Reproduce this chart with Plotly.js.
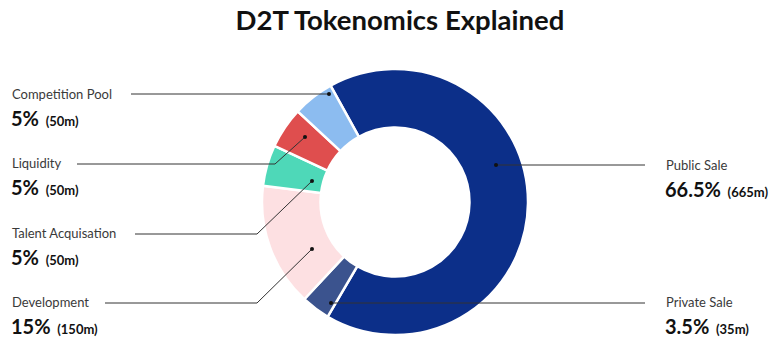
<!DOCTYPE html>
<html>
<head>
<meta charset="utf-8">
<script src="https://cdn.plot.ly/plotly-3.0.1.min.js"></script>
<style>html,body{margin:0;padding:0;background:#fff;}#chart{width:775px;height:345px;}</style>
</head>
<body>
<div id="chart"></div>
<script>
const labels = ['Public Sale', 'Private Sale', 'Development', 'Talent Acquisation', 'Liquidity', 'Competition Pool'];
const values = [66.5, 3.5, 15, 5, 5, 5];
const tokens = ['665m', '35m', '150m', '50m', '50m', '50m'];
const colors = ['#0c2f89', '#3b538e', '#fde0e2', '#4ed8b8', '#df4e4e', '#8cbcf0'];

const W = 775, H = 345;
const px = x => x / W;
const py = y => 1 - y / H;

// label placement (pixels): [labelX, labelY, anchor, lineStartX, elbowX, dotX, dotY]
const place = {
  'Public Sale':        [664, 165, 'left', 645, null, 496, 165],
  'Private Sale':       [664, 302, 'left', 645, null, 331, 303],
  'Development':        [10, 302, 'left', 105, 257, 312, 249],
  'Talent Acquisation': [10, 233, 'left', 135, 257, 312, 181],
  'Liquidity':          [10, 163, 'left', 77, 275, 305, 137],
  'Competition Pool':   [10, 94, 'left', 131, null, 329, 94]
};

const annotations = [];
const shapes = [];
labels.forEach((lab, i) => {
  const p = place[lab];
  annotations.push({
    xref: 'paper', yref: 'paper', x: px(p[0]), y: py(p[1]),
    xanchor: 'left', yanchor: 'middle', showarrow: false,
    text: lab, font: {family: 'Lato, sans-serif', size: 13, color: '#3a3a3a'}
  });
  annotations.push({
    xref: 'paper', yref: 'paper', x: px(p[0] - 1), y: py(p[1] + 24),
    xanchor: 'left', yanchor: 'middle', showarrow: false,
    text: '<b><span style="font-size:20px">' + values[i] + '%</span></b>  <b>(' + tokens[i] + ')</b>',
    font: {family: 'Lato, sans-serif', size: 13, color: '#111'}
  });
  const ly = p[1] + 1;
  if (p[4] === null) {
    shapes.push({type: 'line', xref: 'paper', yref: 'paper', x0: px(p[3]), y0: py(p[6]), x1: px(p[5]), y1: py(p[6]), line: {color: '#333', width: 1}});
  } else {
    shapes.push({type: 'path', xref: 'paper', yref: 'paper',
      path: 'M ' + px(p[3]) + ' ' + py(ly) + ' L ' + px(p[4]) + ' ' + py(ly) + ' L ' + px(p[5]) + ' ' + py(p[6]),
      line: {color: '#333', width: 1}});
  }
  shapes.push({type: 'circle', xref: 'paper', yref: 'paper',
    x0: px(p[5] - 2), x1: px(p[5] + 2), y0: py(p[6] + 2), y1: py(p[6] - 2),
    fillcolor: '#111', line: {width: 0}});
});

const cx = 395, cy = 202, r = 133;
const data = [{
  type: 'pie', labels: labels, values: values, hole: 0.56,
  sort: false, direction: 'clockwise', rotation: -29,
  textinfo: 'none', hoverinfo: 'label+percent',
  marker: {colors: colors, line: {color: '#ffffff', width: 2.5}},
  domain: {x: [px(cx - r), px(cx + r)], y: [py(cy + r), py(cy - r)]},
  showlegend: false
}];

const layout = {
  width: W, height: H,
  margin: {l: 0, r: 0, t: 0, b: 0},
  paper_bgcolor: '#fff',
  title: {text: '<b>D2T Tokenomics Explained</b>', x: 0.516, xanchor: 'center', y: py(20), yanchor: 'middle',
    font: {family: 'Lato, sans-serif', size: 27.5, color: '#111'}},
  annotations: annotations,
  shapes: shapes,
  showlegend: false
};

Plotly.newPlot('chart', data, layout, {displayModeBar: false, staticPlot: true});
</script>
</body>
</html>
